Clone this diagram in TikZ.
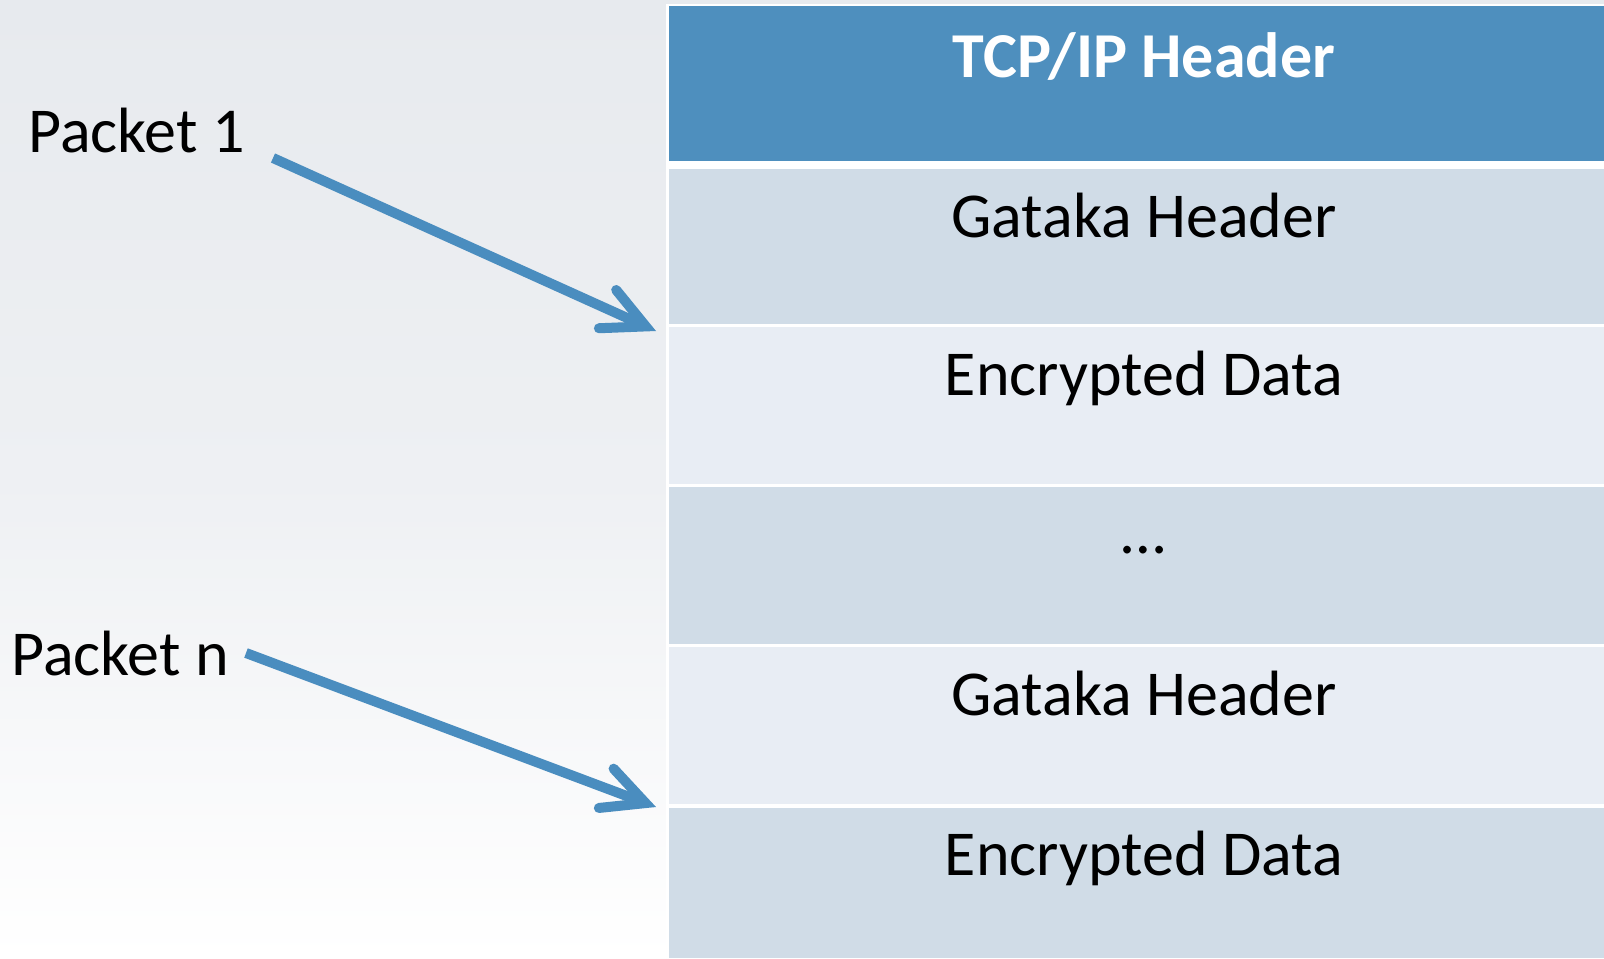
\documentclass[tikz,border=0pt]{standalone}
\usepackage{fontspec}
\setmainfont{Carlito}
\usetikzlibrary{arrows.meta}

\definecolor{hdrblue}{HTML}{4E8FBE}
\definecolor{arrowblue}{HTML}{4A8DBF}
\definecolor{rowdark}{HTML}{D0DCE7}
\definecolor{rowlight}{HTML}{E8EDF4}
\definecolor{bgtop}{HTML}{E7EAEE}
\definecolor{bgmid}{HTML}{EEF0F3}

% page background: grey-blue at the top fading to white at the bottom
% (the filled path spans the 25bp..75bp band of the shading)
\pgfdeclareverticalshading{pagebg}{100bp}{%
  color(0bp)=(white); color(25bp)=(white); color(50bp)=(bgmid);
  color(75bp)=(bgtop); color(100bp)=(bgtop)}

\tikzset{
  celltext/.style={anchor=base, inner sep=0pt, font=\fontsize{32}{38}\selectfont, text=black},
  hdrtext/.style={celltext, font=\fontsize{32}{38}\selectfont\bfseries, text=white},
  pktlabel/.style={anchor=base west, inner sep=0pt, font=\fontsize{32}{38}\selectfont, text=black},
  pktarrow/.style={draw=arrowblue, line width=5pt,
    -{Straight Barb[length=21pt, width=21pt, line cap=round, line join=miter]}},
}

\begin{document}
\begin{tikzpicture}[x=0.5pt, y=-0.5pt]
  \useasboundingbox (0,0) rectangle (1604,958);
  \clip (0,0) rectangle (1604,958);

  % background
  \shade[shading=pagebg] (0,0) rectangle (1604,958);

  % packet table: white frame with stacked cells
  \fill[white] (666,4) rectangle (1620,958);
  \fill[hdrblue]  (669,6)   rectangle (1620,161);
  \fill[rowdark]  (669,169) rectangle (1620,324);
  \fill[rowlight] (669,327) rectangle (1620,484);
  \fill[rowdark]  (669,487) rectangle (1620,644);
  \fill[rowlight] (669,647) rectangle (1620,804);
  \fill[rowdark]  (669,808) rectangle (1620,958);

  % cell captions
  \node[hdrtext]  (tcp)   at (1144,77)  {TCP/IP Header};
  \node[celltext] (gh1)   at (1144,237) {Gataka Header};
  \node[celltext] (ed1)   at (1144,395) {Encrypted Data};
  \node[celltext] (dots)  at (1144,553) {\dots};
  \node[celltext] (gh2)   at (1144,715) {Gataka Header};
  \node[celltext] (ed2)   at (1144,875) {Encrypted Data};

  % packet labels and pointers into the table
  \node[pktlabel] (pk1) at (28,152) {Packet 1};
  \node[pktlabel] (pkn) at (11,675) {Packet n};

  \coordinate (a1s) at (273,158);
  \coordinate (a1e) at (656,331);
  \coordinate (ans) at (246,653);
  \coordinate (ane) at (656,807);

  \draw[pktarrow] (a1s) -- (a1e);
  \draw[pktarrow] (ans) -- (ane);
\end{tikzpicture}
\end{document}
